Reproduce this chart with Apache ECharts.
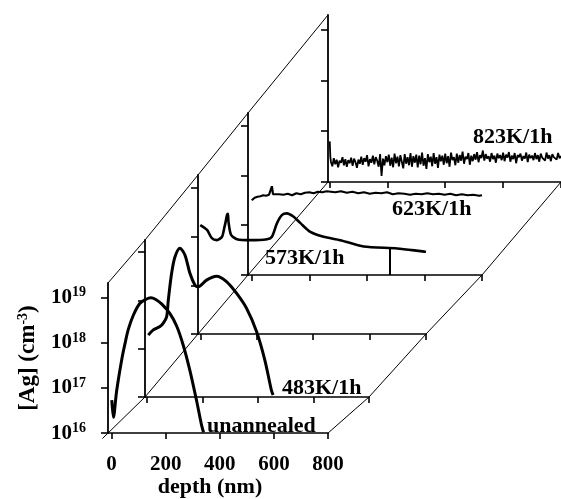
<!DOCTYPE html>
<html><head><meta charset="utf-8">
<script src="https://cdn.jsdelivr.net/npm/echarts@6/dist/echarts.min.js"></script>
<style>html,body{margin:0;padding:0;background:#fff}#c{width:561px;height:499px}</style>
</head><body><div id="c"></div>
<script>
// ---------- data ----------
const seriesNames = ['unannealed', '483K/1h', '573K/1h', '623K/1h', '823K/1h'];
const xTicks = [0, 200, 400, 600, 800];
const yTickExps = [16, 17, 18, 19];

// depth (nm) and log10 [Ag] (cm^-3)
const depthUnannealed = [1, 7, 19, 38, 50, 62, 81, 105, 128, 145, 162, 186, 216, 241, 265, 290, 315, 333, 340];
const logAgUnannealed = [16.73, 16.35, 16.94, 17.64, 17.99, 18.30, 18.62, 18.88, 18.97, 19.0, 18.97, 18.86, 18.65, 18.37, 17.95, 17.38, 16.70, 16.17, 16.02];

const depth483 = [4, 22, 46, 58, 70, 76, 88, 100, 118, 136, 154, 172, 184, 214, 250, 286, 322, 358, 394, 424, 448, 454];
const logAg483 = [17.28, 17.39, 17.46, 17.53, 17.66, 18.0, 18.56, 18.9, 19.08, 18.94, 18.56, 18.32, 18.28, 18.42, 18.5, 18.39, 18.15, 17.84, 17.36, 16.77, 16.14, 16.04];

const depth573 = [0, 24, 41, 59, 77, 85, 89, 95, 98, 100, 109, 130, 177, 237, 254, 272, 290, 307, 331, 355, 390, 437, 496, 579, 698, 800];
const logAg573 = [18.24, 18.14, 17.97, 17.93, 18.0, 18.18, 18.28, 18.45, 18.47, 18.31, 18.04, 17.95, 17.93, 17.95, 18.0, 18.28, 18.45, 18.48, 18.41, 18.28, 18.1, 18.0, 17.93, 17.8, 17.76, 17.69];

const depth623 = [0, 10, 20, 30, 40, 50, 60, 66, 70, 74, 80, 95, 110, 125, 140, 155, 170, 185, 200, 215, 230, 245, 260, 275, 290, 310, 330, 350, 370, 390, 410, 430, 450, 470, 490, 510, 530, 550, 570, 590, 610, 630, 650, 670, 690, 710, 730, 750, 770, 790, 800];
const logAg623 = [17.50, 17.55, 17.57, 17.58, 17.60, 17.59, 17.61, 17.62, 17.78, 17.62, 17.60, 17.62, 17.61, 17.63, 17.60, 17.64, 17.62, 17.65, 17.66, 17.64, 17.67, 17.66, 17.68, 17.67, 17.66, 17.68, 17.65, 17.67, 17.64, 17.66, 17.63, 17.65, 17.64, 17.66, 17.62, 17.64, 17.63, 17.61, 17.63, 17.62, 17.64, 17.62, 17.63, 17.61, 17.63, 17.60, 17.62, 17.60, 17.61, 17.59, 17.60];

const depth823 = [1, 3,
  5, 10, 15, 20, 25, 30, 35, 40, 45, 50, 55, 60, 65, 70, 75, 80, 85, 90, 95, 100,
  105, 110, 115, 120, 125, 130, 135, 140, 145, 150, 155, 160, 165, 170, 175, 180, 185, 190, 195, 200,
  205, 210, 215, 220, 225, 230, 235, 240, 245, 250, 255, 260, 265, 270, 275, 280, 285, 290, 295, 300,
  305, 310, 315, 320, 325, 330, 335, 340, 345, 350, 355, 360, 365, 370, 375, 380, 385, 390, 395, 400,
  405, 410, 415, 420, 425, 430, 435, 440, 445, 450, 455, 460, 465, 470, 475, 480, 485, 490, 495, 500,
  505, 510, 515, 520, 525, 530, 535, 540, 545, 550, 555, 560, 565, 570, 575, 580, 585, 590, 595, 600,
  605, 610, 615, 620, 625, 630, 635, 640, 645, 650, 655, 660, 665, 670, 675, 680, 685, 690, 695, 700,
  705, 710, 715, 720, 725, 730, 735, 740, 745, 750, 755, 760, 765, 770, 775, 780, 785, 790, 795, 800];
const logAg823 = [16.80, 16.50,
  16.40, 16.31, 16.47, 16.35, 16.44, 16.29, 16.42, 16.38, 16.49, 16.33, 16.45, 16.30, 16.43, 16.37, 16.48, 16.32, 16.46, 16.39, 16.28, 16.44,
  16.36, 16.50, 16.34, 16.47, 16.40, 16.53, 16.31, 16.45, 16.38, 16.52, 16.35, 16.49, 16.42, 16.30, 16.55, 16.12, 16.46, 16.33, 16.51, 16.39,
  16.54, 16.32, 16.48, 16.29, 16.56, 16.37, 16.50, 16.31, 16.53, 16.40, 16.27, 16.55, 16.36, 16.49, 16.33, 16.57, 16.30, 16.51, 16.38, 16.54,
  16.29, 16.52, 16.35, 16.58, 16.32, 16.47, 16.26, 16.55, 16.39, 16.50, 16.31, 16.57, 16.36, 16.49, 16.28, 16.54, 16.41, 16.52, 16.34, 16.56,
  16.37, 16.51, 16.30, 16.58, 16.43, 16.49, 16.33, 16.56, 16.38, 16.53, 16.42, 16.60, 16.36, 16.50, 16.45, 16.57, 16.34, 16.52, 16.41, 16.55,
  16.44, 16.59, 16.39, 16.53, 16.47, 16.62, 16.42, 16.55, 16.46, 16.51, 16.40, 16.57, 16.45, 16.52, 16.38, 16.56, 16.47, 16.53, 16.43, 16.58,
  16.41, 16.54, 16.48, 16.59, 16.40, 16.52, 16.45, 16.57, 16.37, 16.53, 16.49, 16.56, 16.42, 16.51, 16.46, 16.58, 16.39, 16.54, 16.47, 16.52,
  16.43, 16.57, 16.45, 16.53, 16.40, 16.56, 16.48, 16.51, 16.42, 16.58, 16.46, 16.53, 16.41, 16.55, 16.49, 16.52, 16.44, 16.57, 16.47, 16.51];

// stray vertical stroke in the 623K panel (depth, top log value)
const strokeDepth = [481];
const strokeTopLog = [16.53];

const seriesDepth = [depthUnannealed, depth483, depth573, depth623, depth823];
const seriesLog = [logAgUnannealed, logAg483, logAg573, logAg623, logAg823];

// ---------- layout ----------
const panelLeft = [108, 145, 198, 248, 328];
const panelTop = [283, 240, 175, 113, 15];
const panelWidth = [220, 224, 228, 234, 238];
const panelHeight = [159, 157, 159, 162, 167];
const panelXMin = [-13, -8, -8, -13, -5];
const panelYMaxExp = [19.33, 19.25, 19.27, 19.25, 19.29];
const seriesLineWidth = [3, 3, 2.6, 2.2, 1.8];
const seriesSmooth = [0.3, 0.3, 0.25, false, false];
const labelPos = [[207, 426], [282, 388], [265, 258], [392, 209], [473, 137]];

const FONT = '"Liberation Serif", "Times New Roman", serif';
const chart = echarts.init(document.getElementById('c'), null, {renderer: 'canvas'});

const supStyle = {color: '#000', fontFamily: FONT, fontWeight: 'bold', fontSize: 14, verticalAlign: 'bottom', padding: [0, 0, 10, 0]};
const grids = [], xAxes = [], yAxes = [], series = [];
for (let i = 0; i < 5; i++) {
  grids.push({left: panelLeft[i], top: panelTop[i], width: panelWidth[i], height: panelHeight[i], containLabel: false});
  xAxes.push({
    type: 'value', gridIndex: i, min: panelXMin[i], max: 800,
    axisLine: {onZero: false, lineStyle: {color: '#000', width: 1.6}},
    axisTick: {show: true, customValues: xTicks, length: 6, inside: false, lineStyle: {color: '#000', width: 1.6}},
    axisLabel: {show: i === 0, customValues: xTicks, margin: 21, color: '#000', fontFamily: FONT, fontWeight: 'bold', fontSize: 21},
    splitLine: {show: false},
    name: i === 0 ? 'depth (nm)' : '', nameLocation: 'middle', nameGap: 40,
    nameTextStyle: {color: '#000', fontFamily: FONT, fontWeight: 'bold', fontSize: 22, padding: [0, 16, 0, 0]}
  });
  yAxes.push({
    type: 'log', logBase: 10, gridIndex: i, min: 1e16, max: Math.pow(10, panelYMaxExp[i]),
    axisLine: {onZero: false, lineStyle: {color: '#000', width: 1.8}},
    axisTick: {show: true, customValues: yTickExps.map(e => Math.pow(10, e)), length: 7, lineStyle: {color: '#000', width: 1.6}},
    axisLabel: {
      show: i === 0, customValues: yTickExps.map(e => Math.pow(10, e)), margin: 22,
      formatter: v => '{b|10}{s|' + Math.round(Math.log10(v)) + '}',
      rich: {
        b: {color: '#000', fontFamily: FONT, fontWeight: 'bold', fontSize: 21},
        s: supStyle
      }
    },
    splitLine: {show: false},
    name: i === 0 ? '[Ag] (cm{s|-3})' : '', nameLocation: 'middle', nameGap: 68,
    nameTextStyle: {
      color: '#000', fontFamily: FONT, fontWeight: 'bold', fontSize: 23,
      rich: {s: supStyle}
    }
  });
  const s = {
    name: seriesNames[i], type: 'line', xAxisIndex: i, yAxisIndex: i,
    data: seriesDepth[i].map((d, k) => [d, Math.pow(10, seriesLog[i][k])]),
    showSymbol: false, symbol: 'none', smooth: seriesSmooth[i],
    lineStyle: {color: '#000', width: seriesLineWidth[i]},
    silent: true, z: 5
  };
  if (i === 3) {
    s.markLine = {
      silent: true, symbol: 'none', label: {show: false},
      lineStyle: {color: '#000', width: 2, type: 'solid'},
      data: strokeDepth.map((d, k) => [{coord: [d, 1e16]}, {coord: [d, Math.pow(10, strokeTopLog[k])]}])
    };
  }
  series.push(s);
}

chart.setOption({
  animation: false,
  backgroundColor: '#fff',
  grid: grids, xAxis: xAxes, yAxis: yAxes, series: series
});

// connecting diagonals, computed from each panel's axes
const leftPts = [], topPts = [], rightPts = [];
for (let i = 0; i < 5; i++) {
  leftPts.push(chart.convertToPixel({gridIndex: i}, [panelXMin[i], 1e16]));
  topPts.push(chart.convertToPixel({gridIndex: i}, [panelXMin[i], Math.pow(10, panelYMaxExp[i])]));
  rightPts.push(chart.convertToPixel({gridIndex: i}, [800, 1e16]));
}
const ext = [leftPts[0][0] - (leftPts[1][0] - leftPts[0][0]) * 0.15, leftPts[0][1] - (leftPts[1][1] - leftPts[0][1]) * 0.15];
const graphics = [
  {type: 'polyline', shape: {points: [ext].concat(leftPts)}, style: {stroke: '#000', lineWidth: 1, fill: null}, silent: true},
  {type: 'polyline', shape: {points: topPts}, style: {stroke: '#000', lineWidth: 1, fill: null}, silent: true},
  {type: 'polyline', shape: {points: rightPts}, style: {stroke: '#000', lineWidth: 1, fill: null}, silent: true}
];
for (let i = 0; i < 5; i++) {
  graphics.push({
    type: 'text', x: labelPos[i][0], y: labelPos[i][1], silent: true, z: 10,
    style: {text: seriesNames[i], fill: '#000', font: 'bold 22px ' + FONT, align: 'left', verticalAlign: 'middle'}
  });
}
chart.setOption({graphic: graphics});
</script></body></html>
